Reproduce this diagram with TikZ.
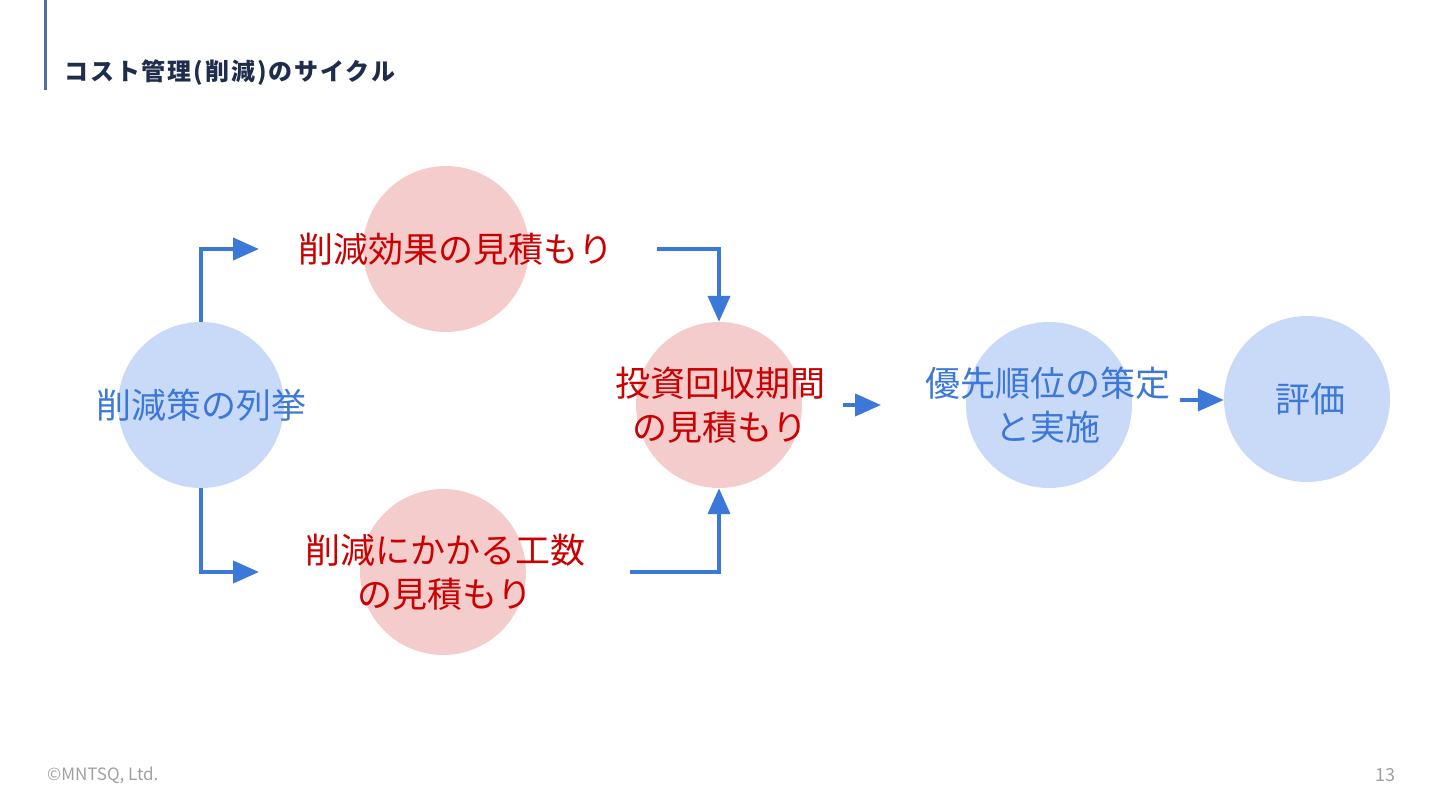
\documentclass[tikz,border=0pt]{standalone}
\usepackage{fontspec}
\setmainfont{Noto Sans CJK JP}
\usepackage{tikz}
\usetikzlibrary{arrows.meta,positioning}
\definecolor{flowblue}{HTML}{3C78D8}
\definecolor{stepblue}{HTML}{C9DAF8}
\definecolor{stepred}{HTML}{F4CCCC}
\definecolor{labelred}{HTML}{CC0000}
\definecolor{titlenavy}{HTML}{1F2D4D}
\definecolor{barblue}{HTML}{4F6FA8}
\definecolor{footgray}{HTML}{A0A0A0}

\begin{document}
\begin{tikzpicture}[x=1pt,y=-1pt]
\tikzset{stepcirc/.style={circle,minimum size=166pt,inner sep=0pt}}
\tikzset{bluecirc/.style={stepcirc,fill=stepblue}}
\tikzset{redcirc/.style={stepcirc,fill=stepred}}
\tikzset{steptext/.style={align=center,font=\fontsize{35}{44}\selectfont,inner sep=0pt}}
\tikzset{flow/.style={draw=flowblue,line width=4pt,
-{Triangle[length=26pt,width=22pt]},flowblue}}
\useasboundingbox (0,0) rectangle (1440,810);
% header
\draw[barblue,line width=3pt] (45,0) -- (45,90);
\node[anchor=west,inner sep=0pt,text=titlenavy,
  font=\fontsize{24}{28}\selectfont\bfseries\addfontfeature{LetterSpace=8}]
  (title) at (64,73) {コスト管理(削減)のサイクル};
% circles
\node[bluecirc] (list) at (201,405) {};
\node[redcirc] (effect) at (446,249) {};
\node[redcirc] (cost) at (443,572) {};
\node[redcirc] (payback) at (719,405) {};
\node[bluecirc] (plan) at (1049,405) {};
\node[bluecirc] (review) at (1307,399) {};
% texts
\node[steptext,text=flowblue] (listtxt) at (201,405) {削減策の列挙};
\node[steptext,text=labelred] (effecttxt) at (456,249) {削減効果の見積もり};
\node[steptext,text=labelred] (costtxt) at (445,572) {削減にかかる工数\\の見積もり};
\node[steptext,text=labelred] (paybacktxt) at (720,405) {投資回収期間\\の見積もり};
\node[steptext,text=flowblue] (plantxt) at (1048,405) {優先順位の策定\\と実施};
\node[steptext,text=flowblue] (reviewtxt) at (1310,399) {評価};
% connectors
\coordinate (effectin) at (259,249);
\coordinate (costin) at (259,572);
\coordinate (effectout) at (657,249);
\coordinate (costout) at (630,572);
\coordinate (paybackout) at (843,405);
\coordinate (planin) at (881,405);
\coordinate (planout) at (1180,400);
\draw[flow] (list.north) |- (effectin);
\draw[flow] (list.south) |- (costin);
\draw[flow] (effectout) -| (payback.north);
\draw[flow] (costout) -| (payback.south);
\draw[flow] (paybackout) -- (planin);
\draw[flow] (planout) -- (review.west|-planout);
% footer
\node[anchor=west,inner sep=0pt,text=footgray,font=\fontsize{17}{20}\selectfont]
  (copy) at (47,775) {©MNTSQ, Ltd.};
\node[anchor=east,inner sep=0pt,text=footgray,font=\fontsize{18}{20}\selectfont]
  (page) at (1396,775) {13};
\end{tikzpicture}
\end{document}
